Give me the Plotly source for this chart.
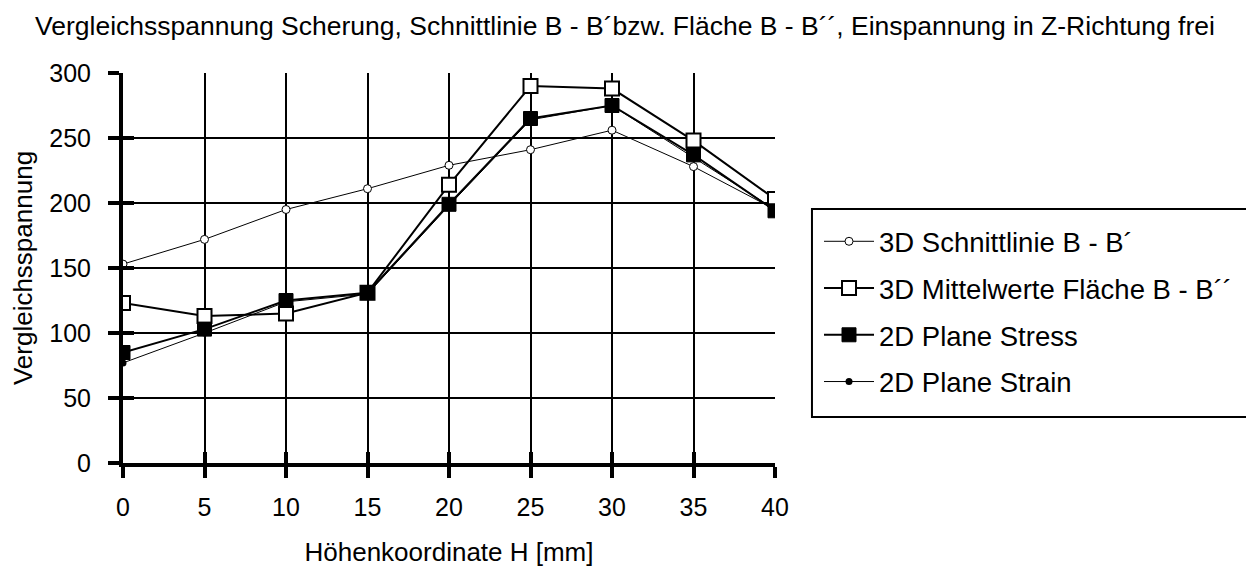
import plotly.graph_objects as go

hoehe = [0, 5, 10, 15, 20, 25, 30, 35, 40]
schnittlinie_3d = [153, 172, 195, 211, 229, 241, 256, 228, 195]
mittelwerte_3d = [123, 113, 115, 131, 214, 290, 288, 248, 203]
plane_stress_2d = [85, 103, 125, 131, 199, 265, 275, 237, 194]
plane_strain_2d = [77, 100, 124, 130, 198, 264, 275, 235, 195]
x_ticks = [0, 5, 10, 15, 20, 25, 30, 35, 40]
y_ticks = [0, 50, 100, 150, 200, 250, 300]

FONT = "Liberation Sans, Arial, sans-serif"

fig = go.Figure()
fig.add_trace(go.Scatter(
    x=hoehe, y=schnittlinie_3d, name="3D Schnittlinie B - B´", mode="lines+markers",
    line=dict(color="black", width=1),
    marker=dict(symbol="circle", size=8, color="white", line=dict(color="black", width=1)),
    legendgroup="a", legendrank=1))
fig.add_trace(go.Scatter(
    x=hoehe, y=plane_strain_2d, name="2D Plane Strain", mode="lines+markers",
    line=dict(color="black", width=1),
    marker=dict(symbol="circle", size=7, color="black"),
    legendgroup="d", legendrank=4))
fig.add_trace(go.Scatter(
    x=hoehe, y=mittelwerte_3d, name="3D Mittelwerte Fläche B - B´´", mode="lines+markers",
    line=dict(color="black", width=2),
    marker=dict(symbol="square", size=14, color="white", line=dict(color="black", width=2)),
    legendgroup="b", legendrank=2))
fig.add_trace(go.Scatter(
    x=hoehe, y=plane_stress_2d, name="2D Plane Stress", mode="lines+markers",
    line=dict(color="black", width=2),
    marker=dict(symbol="square", size=14, color="black", line=dict(color="black", width=1)),
    legendgroup="c", legendrank=3))

# invisible trace to host the overlay axes (inside half of the crossing ticks)
fig.add_trace(go.Scatter(x=[0], y=[0], xaxis="x2", yaxis="y2", mode="markers",
                         marker=dict(opacity=0), showlegend=False, hoverinfo="skip"))

# legend frame
fig.add_shape(type="rect", xref="paper", yref="paper",
              x0=1.0567, x1=1.724, y0=0.118, y1=0.651,
              line=dict(color="black", width=2), fillcolor="white", layer="below")

fig.update_layout(
    width=1254, height=567,
    margin=dict(l=115, r=487, t=65, b=112, autoexpand=False),
    paper_bgcolor="white", plot_bgcolor="white",
    font=dict(family=FONT, size=25, color="black"),
    title=dict(text="Vergleichsspannung Scherung, Schnittlinie B - B´bzw. Fläche B - B´´, Einspannung in Z-Richtung frei",
               x=0.492, xanchor="center", y=0.968, yanchor="middle",
               font=dict(family=FONT, size=26.5, color="black")),
    showlegend=True,
    legend=dict(x=1.0675, xanchor="left", y=0.631, yanchor="top",
                borderwidth=0, bgcolor="rgba(0,0,0,0)",
                traceorder="grouped", tracegroupgap=8, itemwidth=50,
                font=dict(family=FONT, size=27.5, color="black")),
    xaxis=dict(range=[0, 40], tickvals=x_ticks, ticks="outside", ticklen=11, tickwidth=4,
               tickcolor="black", showline=True, linecolor="black", linewidth=4,
               showgrid=True, gridcolor="black", gridwidth=2, zeroline=False, automargin=False,
               ticklabelstandoff=8,
               title=dict(text="Höhenkoordinate H [mm]", standoff=24, font=dict(size=26)),
               tickfont=dict(size=25)),
    yaxis=dict(range=[0, 300], tickvals=y_ticks, ticks="outside", ticklen=11, tickwidth=4,
               tickcolor="black", showline=True, linecolor="black", linewidth=4,
               showgrid=True, gridcolor="black", gridwidth=2, zeroline=False, automargin=False,
               ticklabelstandoff=12,
               title=dict(text="Vergleichsspannung", standoff=14, font=dict(size=26)),
               tickfont=dict(size=25)),
    xaxis2=dict(range=[0, 40], tickvals=x_ticks, ticks="inside", ticklen=11, tickwidth=4,
                tickcolor="black", showticklabels=False, showgrid=False, zeroline=False,
                overlaying="x", side="bottom", anchor="y2", showline=False),
    yaxis2=dict(range=[0, 300], tickvals=y_ticks, ticks="inside", ticklen=11, tickwidth=4,
                tickcolor="black", showticklabels=False, showgrid=False, zeroline=False,
                overlaying="y", side="left", anchor="x2", showline=False),
)

fig.write_html("out.html")
